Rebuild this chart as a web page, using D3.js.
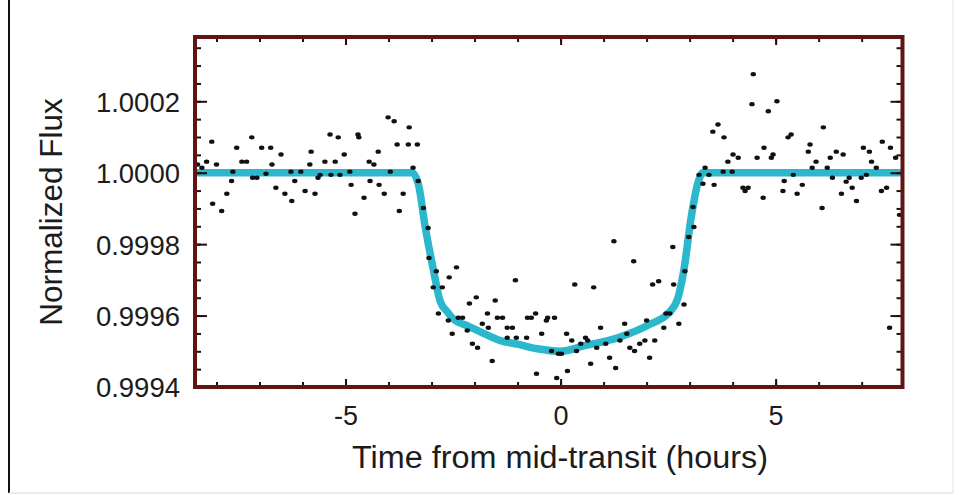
<!DOCTYPE html>
<html>
<head>
<meta charset="utf-8">
<script src="https://cdn.jsdelivr.net/npm/d3@7"></script>
<style>
    body { margin: 0; background: #fff; }
    svg text { font-family: "Liberation Sans", Arial, Helvetica, sans-serif; fill: #1c1c1c; }
</style>
</head>
<body>
<svg id="chart" width="959" height="495"></svg>
<script>

// observed points, hours from mid-transit / normalized flux
const preTime = [-8.44, -8.34, -8.23, -8.11, -8.09, -8.00, -7.88, -7.76, -7.65, -7.62,
    -7.53, -7.41, -7.30, -7.18, -7.16, -7.06, -6.95, -6.85, -6.74, -6.71,
    -6.62, -6.50, -6.41, -6.27, -6.25, -6.18, -6.04, -5.94, -5.83, -5.80,
    -5.71, -5.64, -5.59, -5.48, -5.36, -5.34, -5.24, -5.17, -5.13, -5.03,
    -4.90, -4.87, -4.78, -4.71, -4.69, -4.57, -4.45, -4.43, -4.34, -4.24,
    -4.22, -4.10, -4.01, -3.96, -3.87, -3.80, -3.75, -3.66, -3.54, -3.52,
    -3.43, -3.33, -3.31, -3.19];
const preFlux = [1.000023, 1.000014, 1.000031, 1.000087, 0.999913, 1.000023, 0.999893, 0.999941, 0.999977, 1.000003,
    1.000070, 1.000031, 1.000031, 1.000099, 0.999986, 0.999986, 1.000070, 0.999997, 1.000070, 1.000023,
    0.999958, 1.000051, 0.999941, 1.000003, 0.999921, 0.999977, 1.000003, 0.999949, 1.000023, 1.000059,
    0.999941, 0.999986, 0.999994, 1.000031, 1.000107, 0.999994, 1.000031, 1.000099, 0.999994, 1.000051,
    1.000003, 0.999966, 0.999885, 1.000107, 1.000099, 0.999930, 1.000031, 0.999977, 1.000023, 1.000059,
    0.999966, 0.999941, 1.000155, 1.000003, 1.000144, 1.000079, 0.999893, 0.999941, 1.000079, 1.000127,
    1.000014, 1.000079, 0.999977, 0.999901];

const inTime = [-3.08, -3.06, -2.96, -2.89, -2.84, -2.75, -2.61, -2.59, -2.52, -2.42,
    -2.38, -2.28, -2.17, -2.12, -2.05, -1.96, -1.93, -1.82, -1.70, -1.68,
    -1.59, -1.52, -1.47, -1.35, -1.24, -1.24, -1.12, -1.05, -1.03, -0.79,
    -0.77, -0.68, -0.58, -0.56, -0.44, -0.33, -0.30, -0.21, -0.14, -0.09,
    -0.05, 0.02, 0.14, 0.16, 0.26, 0.33, 0.37, 0.47, 0.58, 0.63,
    0.70, 0.77, 0.84, 0.93, 1.05, 1.14, 1.24, 1.28, 1.38, 1.49,
    1.54, 1.61, 1.70, 1.72, 1.84, 1.96, 2.00, 2.07, 2.14, 2.19,
    2.28, 2.40, 2.45, 2.54, 2.61, 2.63, 2.75, 2.87, 2.89, 2.98,
    3.08, 3.10, 3.22, 3.31];
const inFlux = [0.999845, 0.999761, 0.999679, 0.999724, 0.999606, 0.999679, 0.999586, 0.999707, 0.999549, 0.999735,
    0.999594, 0.999594, 0.999558, 0.999634, 0.999521, 0.999651, 0.999510, 0.999577, 0.999606, 0.999566,
    0.999473, 0.999642, 0.999594, 0.999594, 0.999566, 0.999538, 0.999566, 0.999699, 0.999538, 0.999538,
    0.999594, 0.999594, 0.999606, 0.999437, 0.999549, 0.999586, 0.999594, 0.999501, 0.999594, 0.999425,
    0.999493, 0.999493, 0.999549, 0.999445, 0.999530, 0.999687, 0.999501, 0.999521, 0.999538, 0.999530,
    0.999465, 0.999679, 0.999510, 0.999566, 0.999521, 0.999482, 0.999808, 0.999453, 0.999530, 0.999577,
    0.999549, 0.999510, 0.999752, 0.999501, 0.999521, 0.999530, 0.999586, 0.999482, 0.999687, 0.999530,
    0.999696, 0.999566, 0.999606, 0.999606, 0.999792, 0.999687, 0.999577, 0.999631, 0.999724, 0.999820,
    0.999904, 0.999848, 0.999994, 0.999969];

const postTime = [3.36, 3.45, 3.54, 3.57, 3.66, 3.78, 3.80, 3.89, 3.99, 4.01,
    4.13, 4.24, 4.29, 4.36, 4.45, 4.48, 4.57, 4.71, 4.73, 4.83,
    4.90, 4.94, 5.03, 5.17, 5.20, 5.29, 5.36, 5.41, 5.50, 5.62,
    5.76, 5.80, 5.85, 5.94, 6.08, 6.11, 6.20, 6.27, 6.32, 6.41,
    6.53, 6.57, 6.64, 6.71, 6.78, 6.88, 6.99, 7.04, 7.11, 7.18,
    7.23, 7.34, 7.46, 7.48, 7.58, 7.65, 7.67, 7.79, 7.88];
const postFlux = [1.000014, 0.999994, 1.000115, 0.999966, 1.000135, 1.000003, 1.000099, 1.000031, 1.000003, 1.000051,
    1.000042, 0.999958, 0.999949, 0.999958, 1.000192, 1.000276, 1.000042, 0.999930, 1.000070, 1.000172,
    1.000042, 1.000051, 1.000200, 0.999949, 0.999977, 1.000099, 1.000107, 0.999994, 0.999941, 0.999966,
    1.000059, 1.000079, 1.000014, 1.000031, 0.999901, 1.000127, 1.000014, 1.000042, 0.999986, 1.000059,
    0.999941, 1.000051, 0.999975, 0.999986, 0.999958, 0.999921, 0.999986, 1.000070, 0.999994, 1.000059,
    1.000031, 1.000014, 0.999949, 1.000087, 0.999958, 0.999566, 1.000070, 1.000042, 0.999882];

// fitted transit model
const modelTime = [-8.5, -3.45, -3.31, -3.15, -2.96, -2.80, -2.63, -2.49, -2.14, -1.79, -1.40, -1.00, -0.54, 0,
    0.54, 1.33, 2.10, 2.52, 2.73, 2.87, 3.03, 3.19, 3.31, 7.95];
const modelFlux = [1.0, 1.0, 0.99997, 0.99985, 0.99973, 0.99964, 0.99961, 0.99959, 0.99957, 0.99955, 0.99953, 0.99952, 0.999507, 0.99950,
    0.999515, 0.999538, 0.999577, 0.999608, 0.99965, 0.99973, 0.99987, 0.99997, 1.0, 1.0];

const xTickLabels = [-5, 0, 5];
const yTickLabels = [0.9994, 0.9996, 0.9998, 1.0000, 1.0002];

class TransitChart {

    constructor(svgId) {
        this.svg = d3.select(svgId);
        this.left = 195;
        this.right = 902.5;
        this.top = 37;
        this.bottom = 387;
        this.x = d3.scaleLinear().domain([-8.5, 7.95]).range([this.left, this.right]);
        this.y = d3.scaleLinear().domain([0.9994, 1.00038]).range([this.bottom, this.top]);
        this.drawFrame();
        this.drawData();
        this.drawAxes();
    }

    drawFrame() {
        // outer picture edges
        this.svg.append("line").attr("x1", 9).attr("x2", 9).attr("y1", 0).attr("y2", 493).attr("stroke", "#111").attr("stroke-width", 2);
        this.svg.append("line").attr("x1", 9).attr("x2", 953).attr("y1", 493).attr("y2", 493).attr("stroke", "#e4e4e4").attr("stroke-width", 1.5);
        this.svg.append("line").attr("x1", 953).attr("x2", 953).attr("y1", 0).attr("y2", 493).attr("stroke", "#ececec").attr("stroke-width", 1.5);

        this.svg.append("clipPath").attr("id", "plot-clip").append("rect")
            .attr("x", this.left).attr("y", this.top)
            .attr("width", this.right - this.left).attr("height", this.bottom - this.top);
    }

    drawData() {
        let plot = this.svg.append("g").attr("clip-path", "url(#plot-clip)");

        let line = d3.line().x(d => this.x(d[0])).y(d => this.y(d[1])).curve(d3.curveMonotoneX);
        plot.append("path").datum(d3.zip(modelTime, modelFlux)).attr("d", line)
            .attr("fill", "none").attr("stroke", "#2bb8cd").attr("stroke-width", 7.5)
            .attr("stroke-linejoin", "round").attr("stroke-linecap", "round");

        let points = d3.zip(preTime, preFlux).concat(d3.zip(inTime, inFlux), d3.zip(postTime, postFlux));
        plot.selectAll("ellipse").data(points).join("ellipse")
            .attr("cx", d => this.x(d[0])).attr("cy", d => this.y(d[1]))
            .attr("rx", 2.7).attr("ry", 2.2).attr("fill", "#111");
    }

    drawAxes() {
        let yMinor = d3.range(0, 20).map(i => 0.9994 + i * 0.00005).filter(v => v < 1.00038);
        let xMinor = d3.range(-8, 8);
        let tickColor = "#2a0a0a";

        let axes = [
            {axis: d3.axisLeft(this.y).tickValues(yMinor).tickSize(-6), t: [this.left, 0]},
            {axis: d3.axisRight(this.y).tickValues(yMinor).tickSize(-6), t: [this.right, 0]},
            {axis: d3.axisRight(this.y).tickValues(yTickLabels).tickSize(-12), t: [this.right, 0]},
            {axis: d3.axisBottom(this.x).tickValues(xMinor).tickSize(-5), t: [0, this.bottom]},
            {axis: d3.axisTop(this.x).tickValues(xMinor).tickSize(-5), t: [0, this.top]},
            {axis: d3.axisTop(this.x).tickValues(xTickLabels).tickSize(-8), t: [0, this.top]}
        ];
        axes.forEach(a => {
            let g = this.svg.append("g").attr("transform", "translate(" + a.t[0] + "," + a.t[1] + ")").call(a.axis.tickFormat(""));
            g.select(".domain").remove();
            g.selectAll("line").attr("stroke", tickColor).attr("stroke-width", 2);
        });

        let yAxis = this.svg.append("g").attr("transform", "translate(" + this.left + ",0)")
            .call(d3.axisLeft(this.y).tickValues(yTickLabels).tickSize(-12).tickPadding(15).tickFormat(d3.format(".4f")));
        yAxis.select(".domain").remove();
        yAxis.selectAll("line").attr("stroke", tickColor).attr("stroke-width", 2);
        yAxis.selectAll("text").attr("font-size", 27.5).attr("dy", "0.36em");

        // plain hyphen for negative labels, as in the original figure
        let xAxis = this.svg.append("g").attr("transform", "translate(0," + this.bottom + ")")
            .call(d3.axisBottom(this.x).tickValues(xTickLabels).tickSize(-8).tickPadding(19).tickFormat(d => String(d)));
        xAxis.select(".domain").remove();
        xAxis.selectAll("line").attr("stroke", tickColor).attr("stroke-width", 2);
        xAxis.selectAll("text").attr("font-size", 27);

        // plot border
        this.svg.append("rect").attr("x", this.left).attr("y", this.top)
            .attr("width", this.right - this.left).attr("height", this.bottom - this.top)
            .attr("fill", "none").attr("stroke", "#621414").attr("stroke-width", 4);

        this.svg.append("text").attr("x", 560).attr("y", 468).attr("text-anchor", "middle")
            .attr("font-size", 31).attr("textLength", 416).attr("lengthAdjust", "spacingAndGlyphs")
            .text("Time from mid-transit (hours)");
        this.svg.append("text").attr("transform", "translate(62,212) rotate(-90)").attr("text-anchor", "middle")
            .attr("font-size", 31.5).text("Normalized Flux");
    }
}

new TransitChart("#chart");

</script>
</body>
</html>
